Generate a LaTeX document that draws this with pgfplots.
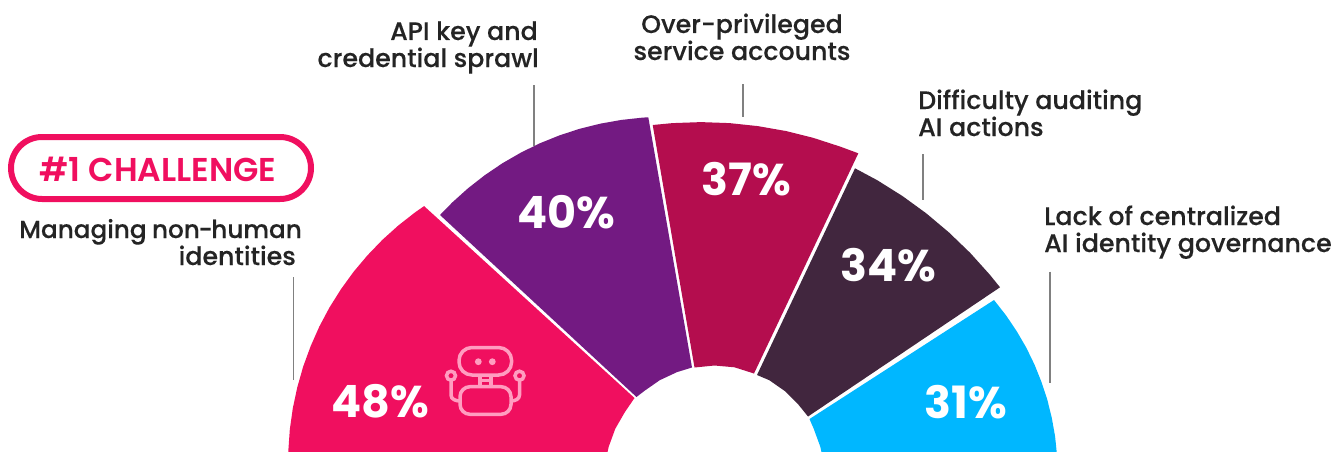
\documentclass[border=0pt]{standalone}
\usepackage{pgfplots}
\pgfplotsset{compat=1.18}
\usepackage{fontspec}
\setmainfont{Poppins}
\newfontfamily\lblf{Poppins Medium}[FakeBold=0.25]
\newfontfamily\semif{Poppins SemiBold}
\newfontfamily\boldf{Poppins Bold}
\definecolor{cPink}{HTML}{F00F5F}
\definecolor{cPurple}{HTML}{731A82}
\definecolor{cCrimson}{HTML}{B40D4E}
\definecolor{cDark}{HTML}{41263E}
\definecolor{cCyan}{HTML}{00B7FF}
\definecolor{cIcon}{HTML}{FF9DC0}
\definecolor{cText}{HTML}{242424}
\definecolor{cRule}{HTML}{808080}
\newcommand{\lbl}[4]{\node[anchor=#3,inner sep=0pt,text=cText,font=\fontsize{25.3}{25.3}\selectfont\lblf] at (#1,#2) {#4};}
\newcommand{\pct}[3]{\node[anchor=center,inner sep=0pt,text=white,font=\fontsize{44.5}{44.5}\selectfont\boldf] at (#1,#2) {#3};}
\begin{document}
\begin{tikzpicture}
\useasboundingbox (0pt,0pt) rectangle (1335pt,451pt);
\begin{axis}[
  scale only axis, width=1335pt, height=451pt,
  xmin=0, xmax=1335, ymin=0, ymax=451, y dir=reverse,
  hide axis, clip=true]
% 48% wedge
\addplot[fill=cPink, draw=none] coordinates {
  (288.1,461.9) (288.3,451.1) (289.8,429.6) (292.8,408.3) (297.3,387.2) (303.2,366.5)
  (310.6,346.3) (319.3,326.6) (329.4,307.6) (340.9,289.3) (353.5,271.9) (367.4,255.4)
  (382.3,239.9) (398.3,225.5) (415.3,212.2) (424.1,206.1)
  (634.5,398) (624.8,412.2) (615.3,428.7) (608.7,446.7) (606.7,456)} -- cycle;
% 40% wedge
\addplot[fill=cPurple, draw=none] coordinates {
  (440,215) (452.3,202.4) (468.1,188.2) (484.9,175.1) (502.5,163.2) (520.9,152.6)
  (540,143.2) (559.7,135.3) (579.9,128.7) (600.6,123.6) (621.5,119.9) (642.7,117.6) (648.3,117.3)
  (692,367.5) (677,372.1) (659.7,380.2) (644.1,391.1) (636.5,397)} -- cycle;
% 37% wedge
\addplot[fill=cCrimson, draw=none] coordinates {
  (652.7,125) (672.5,123.1) (701,122.1) (729.5,123.1) (757.8,126.1) (785.8,131)
  (813.4,137.9) (840.5,146.7) (858.3,153.3)
  (754,373.5) (734.5,367.3) (714.5,365.5) (694.5,367.5)} -- cycle;
% 34% wedge
\addplot[fill=cDark, draw=none] coordinates {
  (855,168.3) (877.4,180.3) (902.4,196) (926.2,213.3) (948.8,232.3) (970.1,252.8)
  (989.8,274.7) (1000,287.3)
  (808,416.5) (798.4,404.6) (784.9,391.1) (769.3,380.2) (757,375)} -- cycle;
% 31% wedge
\addplot[fill=cCyan, draw=none] coordinates {
  (994,300) (1006.2,315.6) (1016.7,331.2) (1026.2,347.5) (1034.4,364.4) (1041.4,381.8)
  (1047.3,399.7) (1051.8,418) (1055.1,436.5) (1057,455.2)
  (822.3,456) (820.3,446.7) (813.7,428.7) (809.5,419)} -- cycle;
% leader rules
\addplot[cRule, line width=1.2pt] coordinates {(293.7,277) (293.7,380)};
\addplot[cRule, line width=1.2pt] coordinates {(534,85) (534,146)};
\addplot[cRule, line width=1.2pt] coordinates {(743,84) (743,117)};
\addplot[cRule, line width=1.2pt] coordinates {(923,154) (923,200)};
\addplot[cRule, line width=1.2pt] coordinates {(1050,271.5) (1050,383)};
\end{axis}
\begin{scope}[x=1pt,y=-1pt,shift={(0pt,451pt)}]
  % callout pill
  \draw[cPink,line width=6pt,rounded corners=31pt] (11,137) rectangle (311,199);
  \node[anchor=center,inner sep=0pt,text=cPink,font=\fontsize{33}{33}\selectfont\semif] at (158,169) {\#1 CHALLENGE};
  % category names
  \lbl{302}{238}{base east}{\fontsize{24.7}{24.7}\selectfont Managing\kern-1pt\ non\kern-1.5pt-\kern-1.5pt human}
  \lbl{296}{265}{base east}{identities}
  \lbl{538}{40}{base east}{API key and}
  \lbl{539}{67}{base east}{credential sprawl}
  \lbl{742}{33}{base}{Over-privileged}
  \lbl{742}{60}{base}{service accounts}
  \lbl{918}{109}{base west}{Difficulty auditing}
  \lbl{918}{136}{base west}{AI actions}
  \lbl{1044}{225}{base west}{Lack of centralized}
  \lbl{1044}{252}{base west}{AI identity governance}
  % percentages
  \pct{380}{401}{48\%}
  \pct{566}{212}{40\%}
  \pct{746}{179}{37\%}
  \pct{888}{265}{34\%}
  \pct{966}{402}{31\%}
  % robot icon
  \begin{scope}[cIcon,line width=3.5pt]
    \draw[rounded corners=13pt] (459,347.5) rectangle (511.6,375);
    \draw[rounded corners=10pt] (460,386.7) rectangle (511,414.3);
    \draw (480,375) -- (480,386.7) (491,375) -- (491,386.7);
    \draw (480,380.5) -- (491,380.5);
    \draw (451,381) -- (451,395) to[out=270,in=180] (460,401);
    \draw (519.5,381) -- (519.5,395) to[out=270,in=0] (511,401);
    \draw (451,375.7) circle[radius=4.5];
    \draw (519.5,375.7) circle[radius=4.5];
    \fill (478.3,361.7) circle[radius=3.4];
    \fill (492.3,361.7) circle[radius=3.4];
  \end{scope}
\end{scope}
\end{tikzpicture}
\end{document}
